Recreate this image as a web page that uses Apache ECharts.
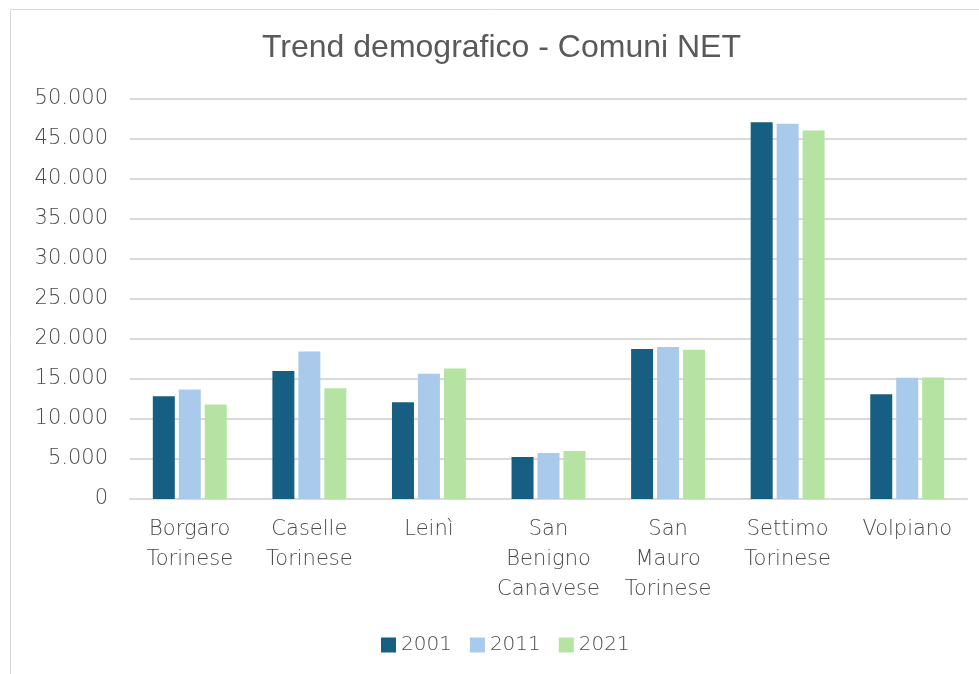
<!DOCTYPE html>
<html>
<head>
<meta charset="utf-8">
<script src="https://cdn.jsdelivr.net/npm/echarts@6/dist/echarts.min.js"></script>
<style>
  html, body { margin: 0; padding: 0; background: #fff; }
  #chart { width: 979px; height: 674px; }
</style>
</head>
<body>
<div id="chart"></div>
<script>
// categorie (comuni)
const comuni = [
  "Borgaro\nTorinese",
  "Caselle\nTorinese",
  "Leinì",
  "San\nBenigno\nCanavese",
  "San\nMauro\nTorinese",
  "Settimo\nTorinese",
  "Volpiano",
];
// popolazione per anno
const anni = ["2001", "2011", "2021"];
const pop2001 = [12850, 16000, 12100, 5250, 18750, 47100, 13100];
const pop2011 = [13700, 18450, 15650, 5750, 19000, 46900, 15150];
const pop2021 = [11800, 13850, 16300, 6000, 18650, 46050, 15200];
const colori = ["#175f82", "#a9caeb", "#b5e4a2"];

const fmt = (v) => String(v).replace(/\B(?=(\d{3})+(?!\d))/g, ".");
const FONT = "DejaVu Sans";
const TXT = "#4a4a4a";

const chart = echarts.init(document.getElementById("chart"));
const serie = [pop2001, pop2011, pop2021].map((data, i) => {
  return {
    name: anni[i],
    type: "bar",
    data: data,
    barWidth: 22,
    barGap: "18%",
    itemStyle: { color: colori[i] },
  };
});

const option = {
  animation: false,
  title: {
    text: "Trend demografico - Comuni NET",
    left: 257,
    top: 27,
    textStyle: {
      fontFamily: "Liberation Sans, Arial",
      fontWeight: "normal",
      fontSize: 32,
      color: "#595959",
    },
  },
  legend: {
    top: 630,
    left: 376,
    icon: "rect",
    itemWidth: 15,
    itemHeight: 15,
    itemGap: 18,
    data: anni,
    textStyle: {
      fontFamily: FONT,
      fontWeight: 300,
      fontSize: 20,
      color: TXT,
    },
  },
  grid: {
    left: 130,
    right: 12,
    top: 99,
    bottom: 175,
  },
  xAxis: {
    type: "category",
    data: comuni,
    axisTick: { show: false },
    axisLine: { lineStyle: { color: "#d9d9d9", width: 2 } },
    axisLabel: {
      interval: 0,
      margin: 16,
      fontFamily: FONT,
      fontWeight: 300,
      fontSize: 21,
      lineHeight: 30,
      color: TXT,
    },
  },
  yAxis: {
    type: "value",
    min: 0,
    max: 50000,
    interval: 5000,
    axisLabel: {
      formatter: fmt,
      margin: 22,
      fontFamily: FONT,
      fontWeight: 300,
      fontSize: 21,
      color: TXT,
    },
    splitLine: { lineStyle: { color: "#d9d9d9", width: 2 } },
  },
  series: serie,
  graphic: [
    {
      type: "rect",
      shape: { x: 10.5, y: 9.5, width: 980, height: 680 },
      style: { fill: "none", stroke: "#d9d9d9", lineWidth: 1 },
    },
  ],
};
chart.setOption(option);
</script>
</body>
</html>
